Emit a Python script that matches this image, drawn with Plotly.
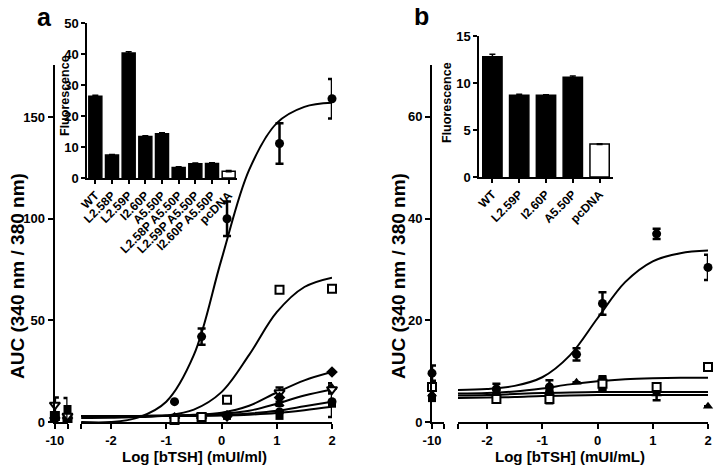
import plotly.graph_objects as go

# ---------------- data ----------------
# inset a
INS_A_CATS = ["WT", "L2.58P", "L2.59P", "I2.60P", "A5.50P",
              "L2.58P A5.50P", "L2.59P A5.50P", "I2.60P A5.50P", "pcDNA"]
INS_A_VALS = [26.4, 7.4, 40.3, 13.4, 14.3, 3.4, 4.6, 4.7, 2.2]
INS_A_ERR = [0.3, 0.2, 0.4, 0.2, 0.3, 0.2, 0.2, 0.2, 0.2]
# inset b
INS_B_CATS = ["WT", "L2.59P", "I2.60P", "A5.50P", "pcDNA"]
INS_B_VALS = [12.8, 8.7, 8.7, 10.6, 3.5]
INS_B_ERR = [0.25, 0.1, 0.05, 0.15, 0.05]

# panel a : measured points
X_LEFT_A = [-10, -9]
X_PTS_A = [-0.85, -0.36, 0.1, 1.05, 2.0]
A_WT = [10, 42, 100, 137, 159]
A_WT_ERR = [0, 4, 8.5, 10, 9.7]
A_WT_LEFT = [2.5, 2]
A_SQO = [1, 2.5, 11, 65, 65.5]
A_SQO_ERR = [0, 0, 1.5, 0, 0]
A_SQO_LEFT = [3, 2]
A_DIA = [2, 2, 3, 12, 24.6]
A_DIA_LEFT = [2, 2]
A_TRD = [2, 3, 3, 14.5, 16]
A_TRD_ERR = [0, 0, 0, 2.5, 2]
A_TRD_LEFT = [8.4, 3]
A_TRD_LEFT_ERR = [3.6, 0]
A_TRU = [1.5, 2, 3.5, 9, 17]
A_TRU_ERR = [0, 0, 0, 1, 2]
A_TRU_LEFT = [2, 2.5]
A_SQF = [1, 2, 3, 3, 9]
A_SQF_LEFT = [3, 6.4]
A_SQF_LEFT_ERR = [0, 5.4]
A_CI2 = [2, 2, 3, 5, 10]
A_CI2_ERR = [0, 0, 0, 0, 7.5]
A_CI2_LEFT = [1.5, 2]

# panel a : fitted curves
X_CURVE_A = [-2.54, -2, -1.5, -1, -0.5, 0, 0.5, 1, 1.5, 2]
A_WT_CURVE = [0, 0, 2.3, 10, 33, 80, 124, 147, 155, 157]
A_SQO_CURVE = [2, 2.1, 2.4, 3.2, 6.1, 14.7, 33, 54, 66.4, 71]
A_DIA_CURVE = [3, 3, 3, 3.2, 3.6, 4.6, 8, 14.5, 20.5, 24.6]
A_TRU_CURVE = [3, 3, 3, 3.1, 3.4, 4, 5.5, 9, 13, 16]
A_CI2_CURVE = [3, 3, 3, 3, 3.2, 3.5, 4.2, 5.5, 7.7, 10]
A_SQF_CURVE = [3, 3, 3, 3, 3, 3.2, 3.6, 4.4, 5.8, 7.5]

# panel b : measured points
X_LEFT_B = [-10]
X_PTS_B = [-1.83, -0.87, -0.38, 0.09, 1.07, 2.0]
B_WT = [6.5, 6.9, 13.3, 23.3, 37.0, 30.4]
B_WT_ERR = [1.0, 1.3, 1.2, 2.2, 1.0, 2.5]
B_WT_LEFT = [9.6]
B_WT_LEFT_ERR = [1.5]
B_SQO = [4.5, 4.5, None, 7.5, 6.9, 10.8]
B_SQO_ERR = [0, 0.8, 0, 1.0, 0, 0]
B_SQO_LEFT = [6.9]
B_TRU = [5.5, 6.0, 7.8, 6.3, 5.5, 3.1]
B_TRU_ERR = [0, 0, 0, 0, 1.2, 0]
B_TRU_LEFT = [5.5]
B_SQF = [5.0, 5.8, None, 8.2, 6.0, None]
B_SQF_ERR = [1.2, 0, 0, 0.8, 0, 0]
B_SQF_LEFT = [4.7]

# panel b : fitted curves
X_CURVE_B = [-2.525, -2, -1.5, -1, -0.5, 0, 0.5, 1, 1.5, 2]
B_WT_CURVE = [6.3, 6.5, 7.1, 8.8, 13.1, 20.4, 27.5, 31.6, 33.2, 33.7]
B_SQO_CURVE = [5.6, 5.7, 6.0, 6.6, 7.4, 8.0, 8.4, 8.6, 8.7, 8.7]
B_TRU_CURVE = [5.2, 5.3, 5.5, 5.7, 5.8, 5.9, 5.9, 5.9, 5.9, 5.9]
B_SQF_CURVE = [4.7, 4.8, 4.9, 5.1, 5.2, 5.3, 5.3, 5.3, 5.3, 5.3]

# ---------------- figure ----------------
# the page body has an 8 px margin, so the figure is drawn at (8, 8) in the window
OFF = 8
W, H = 727 - OFF, 473 - 2 * OFF
FONT = "Liberation Sans, Arial, sans-serif"


def px_x(p):
    return (p - OFF) / W


def px_y(p):
    return 1 - (p - OFF) / H


fig = go.Figure()

MK = {
    "circle": dict(symbol="circle", size=9, color="black"),
    "sqo": dict(symbol="square", size=8, color="white", line=dict(color="black", width=2)),
    "sqf": dict(symbol="square", size=8, color="black"),
    "dia": dict(symbol="diamond", size=9, color="black"),
    "trd": dict(symbol="triangle-down", size=9, color="white", line=dict(color="black", width=2)),
    "tru": dict(symbol="triangle-up", size=9, color="black"),
}


def err(vals):
    return dict(type="data", array=vals, color="black", thickness=2.5, width=4, visible=True)


def add_curve(x, y, xa, ya):
    fig.add_trace(go.Scatter(x=x, y=y, mode="lines", xaxis=xa, yaxis=ya,
                             line=dict(color="black", width=2, shape="spline", smoothing=1.0),
                             hoverinfo="skip", showlegend=False))


def add_pts(x, y, mk, xa, ya, e=None):
    fig.add_trace(go.Scatter(x=x, y=y, mode="markers", xaxis=xa, yaxis=ya,
                             marker=MK[mk], error_y=err(e) if e is not None else None,
                             cliponaxis=False, showlegend=False))


# panel a curves
for c in [A_SQF_CURVE, A_CI2_CURVE, A_TRU_CURVE, A_DIA_CURVE, A_SQO_CURVE, A_WT_CURVE]:
    add_curve(X_CURVE_A, c, "x2", "y")
# panel a points
add_pts(X_PTS_A, A_SQF, "sqf", "x2", "y")
add_pts(X_PTS_A, A_CI2, "circle", "x2", "y", A_CI2_ERR)
add_pts(X_PTS_A, A_TRU, "tru", "x2", "y", A_TRU_ERR)
add_pts(X_PTS_A, A_TRD, "trd", "x2", "y", A_TRD_ERR)
add_pts(X_PTS_A, A_DIA, "dia", "x2", "y")
add_pts(X_PTS_A, A_SQO, "sqo", "x2", "y", A_SQO_ERR)
add_pts(X_PTS_A, A_WT, "circle", "x2", "y", A_WT_ERR)
add_pts(X_LEFT_A, A_SQO_LEFT, "sqo", "x", "y")
add_pts(X_LEFT_A, A_DIA_LEFT, "dia", "x", "y")
add_pts(X_LEFT_A, A_TRU_LEFT, "tru", "x", "y")
add_pts(X_LEFT_A, A_CI2_LEFT, "circle", "x", "y")
add_pts(X_LEFT_A, A_WT_LEFT, "circle", "x", "y")
add_pts(X_LEFT_A, A_TRD_LEFT, "trd", "x", "y", A_TRD_LEFT_ERR)
add_pts(X_LEFT_A, A_SQF_LEFT, "sqf", "x", "y", A_SQF_LEFT_ERR)

# panel b curves
for c in [B_SQF_CURVE, B_TRU_CURVE, B_SQO_CURVE, B_WT_CURVE]:
    add_curve(X_CURVE_B, c, "x4", "y2")
add_pts(X_PTS_B, B_SQF, "sqf", "x4", "y2", B_SQF_ERR)
add_pts(X_PTS_B, B_TRU, "tru", "x4", "y2", B_TRU_ERR)
add_pts(X_PTS_B, B_SQO, "sqo", "x4", "y2", B_SQO_ERR)
add_pts(X_PTS_B, B_WT, "circle", "x4", "y2", B_WT_ERR)
add_pts(X_LEFT_B, B_SQF_LEFT, "sqf", "x3", "y2")
add_pts(X_LEFT_B, B_TRU_LEFT, "tru", "x3", "y2")
add_pts(X_LEFT_B, B_SQO_LEFT, "sqo", "x3", "y2")
add_pts(X_LEFT_B, B_WT_LEFT, "circle", "x3", "y2", B_WT_LEFT_ERR)

# insets
fig.add_trace(go.Bar(x=INS_A_CATS, y=INS_A_VALS, xaxis="x5", yaxis="y3", width=0.78,
                     marker=dict(color=["black"] * (len(INS_A_CATS) - 1) + ["white"],
                                 line=dict(color="black", width=1.5)),
                     error_y=dict(type="data", array=INS_A_ERR, color="black", thickness=1.5, width=3),
                     showlegend=False))
fig.add_trace(go.Bar(x=INS_B_CATS, y=INS_B_VALS, xaxis="x6", yaxis="y4", width=0.72,
                     marker=dict(color=["black"] * (len(INS_B_CATS) - 1) + ["white"],
                                 line=dict(color="black", width=1.5)),
                     error_y=dict(type="data", array=INS_B_ERR, color="black", thickness=1.5, width=3),
                     showlegend=False))

AX = dict(showline=True, linecolor="black", linewidth=2, ticks="outside", ticklen=5,
          tickwidth=2, tickcolor="black", showgrid=False, zeroline=False, automargin=False,
          tickfont=dict(family=FONT, size=13, color="black", weight="bold"), fixedrange=True)
INS = dict(AX, ticklen=4, tickwidth=1.5, linewidth=1.5)
CAT_FONT = dict(family=FONT, size=12, color="black", weight="bold")

Y_MAIN = [px_y(422), px_y(65)]

fig.update_layout(
    template="none",
    width=W, height=H, margin=dict(l=0, r=0, t=0, b=0, autoexpand=False),
    paper_bgcolor="white", plot_bgcolor="rgba(0,0,0,0)",
    font=dict(family=FONT, color="black", weight="bold"),
    showlegend=False,
    xaxis=dict(AX, domain=[px_x(54.5), px_x(67.5)], range=[-10.03, -9], anchor="y",
               tickvals=[-10, -9], ticktext=["-10", ""]),
    xaxis2=dict(AX, domain=[px_x(81), px_x(332)], range=[-2.543, 2], anchor="y",
                tickvals=[-2.543, -2, -1, 0, 1, 2], ticktext=["", "-2", "-1", "0", "1", "2"]),
    yaxis=dict(AX, domain=Y_MAIN, range=[0, 175.6], anchor="x", tickvals=[0, 50, 100, 150]),
    xaxis3=dict(AX, domain=[px_x(432), px_x(444)], range=[-10, -9], anchor="y2",
                tickvals=[-10, -9], ticktext=["-10", ""]),
    xaxis4=dict(AX, domain=[px_x(458), px_x(708)], range=[-2.525, 2], anchor="y2",
                tickvals=[-2.525, -2, -1, 0, 1, 2], ticktext=["", "-2", "-1", "0", "1", "2"]),
    yaxis2=dict(AX, domain=Y_MAIN, range=[0, 70.2], anchor="x3", tickvals=[0, 20, 40, 60]),
    xaxis5=dict(INS, domain=[px_x(87), px_x(237)], anchor="y3", type="category",
                tickangle=-45, tickfont=CAT_FONT),
    yaxis3=dict(INS, domain=[px_y(178), px_y(23)], range=[0, 50], anchor="x5",
                tickvals=[0, 10, 20, 30, 40, 50]),
    xaxis6=dict(INS, domain=[px_x(479), px_x(613)], anchor="y4", type="category",
                tickangle=-45, tickfont=CAT_FONT),
    yaxis4=dict(INS, domain=[px_y(177), px_y(36)], range=[0, 15], anchor="x6",
                tickvals=[0, 5, 10, 15]),
)

ANN_FONT = dict(family=FONT, color="black", weight="bold")
annotations = [
    dict(text="a", x=px_x(44), y=px_y(17), font=dict(ANN_FONT, size=25)),
    dict(text="b", x=px_x(421), y=px_y(16), font=dict(ANN_FONT, size=25)),
    dict(text="AUC (340 nm / 380 nm)", x=px_x(17), y=px_y(276), textangle=-90,
         font=dict(ANN_FONT, size=19)),
    dict(text="AUC (340 nm / 380 nm)", x=px_x(398), y=px_y(276), textangle=-90,
         font=dict(ANN_FONT, size=19)),
    dict(text="Log [bTSH] (mUI/ml)", x=px_x(194), y=px_y(456), font=dict(ANN_FONT, size=15)),
    dict(text="Log [bTSH] (mUI/mL)", x=px_x(570), y=px_y(456), font=dict(ANN_FONT, size=15)),
    dict(text="Fluorescence", x=px_x(65), y=px_y(96), textangle=-90,
         font=dict(ANN_FONT, size=12.5)),
    dict(text="Fluorescence", x=px_x(447), y=px_y(102), textangle=-90,
         font=dict(ANN_FONT, size=12.5)),
]
for a in annotations:
    a.update(xref="paper", yref="paper", showarrow=False, xanchor="center", yanchor="middle")
fig.update_layout(annotations=annotations)

fig.write_html("out.html")
